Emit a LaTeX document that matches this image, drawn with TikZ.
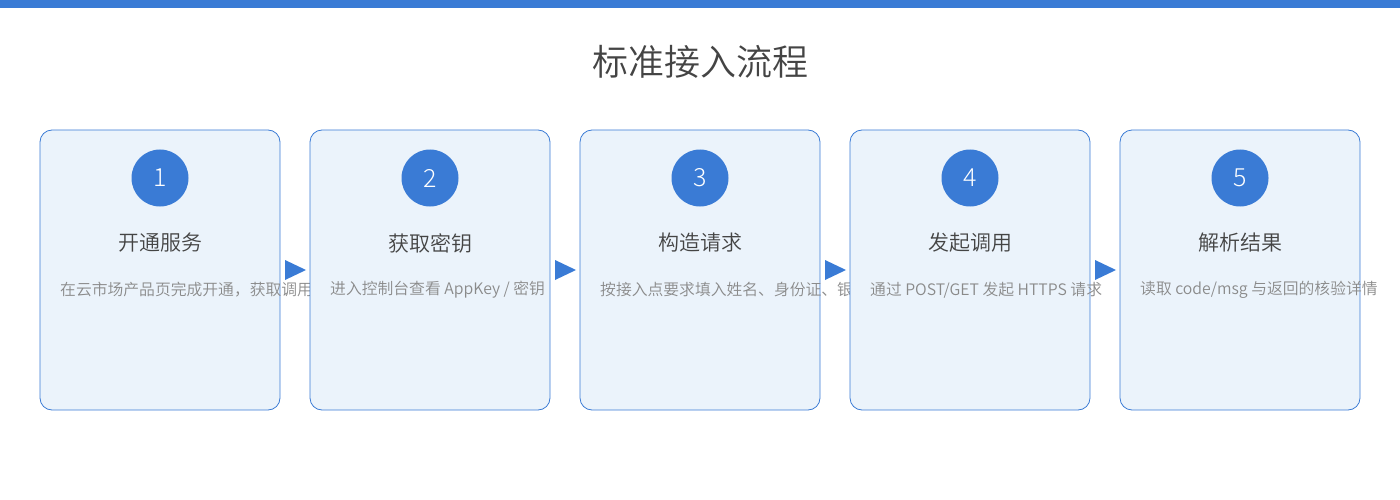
\documentclass[tikz,border=0pt]{standalone}
\usepackage{fontspec}
\setmainfont{Noto Sans CJK SC}
\newfontfamily\lightf{Noto Sans CJK SC Light}
\newfontfamily\dlightf{Noto Sans CJK SC DemiLight}
\definecolor{blu}{HTML}{3A7BD5}
\definecolor{cardbg}{HTML}{EBF3FB}
\definecolor{ttl}{HTML}{444444}
\definecolor{dsc}{HTML}{8A8A8A}
\begin{document}
\begin{tikzpicture}[x=1pt,y=-1pt,
  card/.style={draw=blu,line width=0.8pt,fill=cardbg,rounded corners=12pt},
  num/.style={circle,fill=blu,minimum size=57pt,inner sep=0pt,text=white,font=\lightf\fontsize{25}{25}\selectfont},
  head/.style={text=ttl,font=\dlightf\fontsize{21}{21}\selectfont,inner sep=0pt},
  desc/.style={text=dsc,font=\dlightf\fontsize{15.8}{15.8}\selectfont,inner sep=0pt,anchor=west},
  arr/.style={fill=blu}]
\useasboundingbox (0,0) rectangle (1400,500);
\fill[blu] (0,0) rectangle (1400,8);
\node[text=ttl,font=\dlightf\fontsize{36}{36}\selectfont,inner sep=0pt] (title) at (700,62) {标准接入流程};
\foreach \i/\h/\d in {1/开通服务/{在云市场产品页完成开通，获取调用凭证},
  2/获取密钥/{进入控制台查看 AppKey / 密钥},
  3/构造请求/{按接入点要求填入姓名、身份证、银行卡号},
  4/发起调用/{通过 POST/GET 发起 HTTPS 请求},
  5/解析结果/{读取 code/msg 与返回的核验详情}}{
  \pgfmathsetmacro\L{40+270*(\i-1)}
  \draw[card] (\L,130) rectangle (\L+240,410);
  \node[num] (n\i) at (\L+120,178) {\i};
  \node[head] (h\i) at (\L+120,243) {\h};
  \begin{scope}
  \clip (\L,250) rectangle (\L+270,330);
  \node[desc] (d\i) at (\L+20,290) {\d};
  \end{scope}
}
\foreach \i in {1,2,3,4}{
  \pgfmathsetmacro\X{285+270*(\i-1)}
  \fill[arr] (\X,260) -- (\X+21,270) -- (\X,280) -- cycle;
}
\end{tikzpicture}
\end{document}
